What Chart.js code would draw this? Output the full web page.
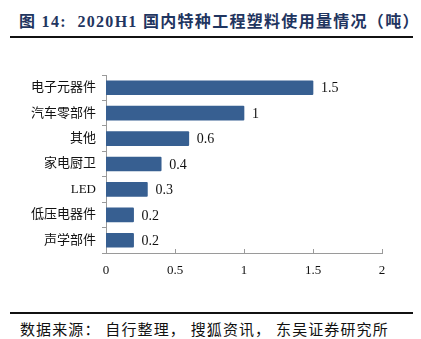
<!DOCTYPE html>
<html>
<head>
<meta charset="utf-8">
<script src="https://cdn.jsdelivr.net/npm/chart.js@4.4.0/dist/chart.umd.min.js"></script>
<style>
  body { margin: 0; width: 421px; height: 339px; background: #fff; position: relative; overflow: hidden; }
  #title { position: absolute; left: 19px; top: 8px; font: bold 16px "Liberation Serif", "Noto Sans CJK SC", serif; color: #1f3560; white-space: nowrap; letter-spacing: 1.3px; }
  #topline { position: absolute; left: 10px; top: 36px; width: 403px; height: 2px; background: #111; }
  #botline { position: absolute; left: 10px; top: 312px; width: 403px; height: 1.5px; background: #111; }
  #source { position: absolute; left: 20px; top: 318px; font: 15px "Liberation Serif", "Noto Sans CJK SC", serif; color: #111; white-space: nowrap; letter-spacing: 1.1px; }
  #wrap { position: absolute; left: 0; top: 60px; width: 421px; height: 233px; }
</style>
</head>
<body>
<div id="title">图 14:&nbsp; 2020H1 国内特种工程塑料使用量情况（吨）</div>
<div id="topline"></div>
<div id="wrap"><canvas id="usageChart" width="421" height="233"></canvas></div>
<div id="botline"></div>
<div id="source">数据来源： 自行整理， 搜狐资讯， 东吴证券研究所</div>
<script>
const categories = ["电子元器件", "汽车零部件", "其他", "家电厨卫", "LED", "低压电器件", "声学部件"];
const usage = [1.5, 1, 0.6, 0.4, 0.3, 0.2, 0.2];
const xTicks = [0, 0.5, 1, 1.5, 2];

const fontFamily = '"Liberation Serif", "Noto Sans CJK SC", serif';

// value labels at the end of each bar + upward tick marks on the x axis
const extras = {
  id: "extras",
  afterDatasetsDraw(chart) {
    const ctx = chart.ctx;
    const meta = chart.getDatasetMeta(0);
    ctx.save();
    ctx.fillStyle = "#111";
    ctx.font = "14px " + fontFamily;
    ctx.textBaseline = "middle";
    meta.data.forEach((bar, i) => {
      ctx.fillText(String(usage[i]), bar.x + 8, bar.y + 1);
    });
    const xs = chart.scales.x;
    const bottom = chart.chartArea.bottom;
    ctx.strokeStyle = "#9a9a9a";
    ctx.lineWidth = 1;
    xTicks.forEach((v) => {
      const px = Math.round(xs.getPixelForValue(v)) + 0.5;
      ctx.beginPath();
      ctx.moveTo(px, bottom);
      ctx.lineTo(px, bottom - 4);
      ctx.stroke();
    });
    ctx.restore();
  },
};

new Chart(document.getElementById("usageChart"), {
  type: "bar",
  data: {
    labels: categories,
    datasets: [
      {
        data: usage,
        backgroundColor: "#375f91",
        barThickness: 14,
        borderRadius: 1,
      },
    ],
  },
  options: {
    indexAxis: "y",
    responsive: false,
    animation: false,
    layout: { padding: { top: 15, right: 39, left: 0, bottom: 0 } },
    plugins: { legend: { display: false }, tooltip: { enabled: false } },
    scales: {
      x: {
        min: 0,
        max: 2,
        afterBuildTicks(scale) {
          scale.ticks = xTicks.map((v) => ({ value: v }));
        },
        grid: { display: false, drawTicks: false },
        border: { color: "#9a9a9a" },
        ticks: {
          color: "#111",
          font: { size: 13, family: fontFamily },
          padding: 10,
          callback: (v) => String(v),
        },
        afterFit(scale) {
          scale.height = 40;
        },
      },
      y: {
        grid: { drawOnChartArea: false, tickLength: 4, color: "#9a9a9a" },
        border: { color: "#9a9a9a" },
        ticks: {
          color: "#111",
          font: { size: 13, family: fontFamily },
          padding: 6,
        },
        afterFit(scale) {
          scale.width = 106;
        },
      },
    },
  },
  plugins: [extras],
});
</script>
</body>
</html>
